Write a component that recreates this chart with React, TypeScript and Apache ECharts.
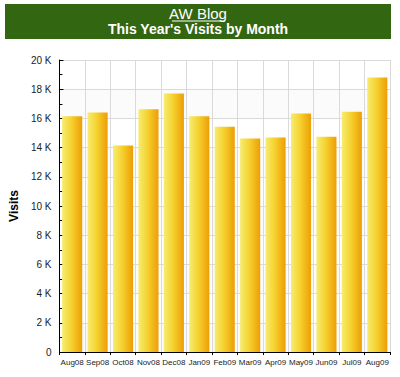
import React, { useEffect, useRef } from "react";
import * as echarts from "echarts";

const categories = ["Aug08", "Sep08", "Oct08", "Nov08", "Dec08", "Jan09", "Feb09", "Mar09", "Apr09", "May09", "Jun09", "Jul09", "Aug09"];
const visits = [16150, 16400, 14150, 16630, 17700, 16150, 15420, 14630, 14690, 16340, 14740, 16450, 18800];
const yTicks = [0, 2000, 4000, 6000, 8000, 10000, 12000, 14000, 16000, 18000, 20000];
const titleLine1 = "AW Blog";
const titleLine2 = "This Year's Visits by Month";
const yAxisName = "Visits";

export default function App() {
  const ref = useRef<HTMLDivElement>(null);
  useEffect(() => {
    if (!ref.current) return;
    const chart = echarts.init(ref.current, null, { renderer: "svg" });
    const font = "'Liberation Sans', Arial, sans-serif";
    chart.setOption({
      animation: false,
      backgroundColor: "#ffffff",
      textStyle: { fontFamily: font },
      graphic: [
        {
          type: "rect",
          shape: { x: 5, y: 4, width: 386, height: 35 },
          style: { fill: "#336611" },
        },
        {
          type: "text",
          x: 198,
          y: 6,
          style: { text: titleLine1, fill: "#ffffff", font: `15px ${font}`, textAlign: "center", textVerticalAlign: "top" },
        },
        {
          type: "line",
          shape: { x1: 172, y1: 21, x2: 225, y2: 21 },
          style: { stroke: "#ffffff", lineWidth: 1 },
        },
        {
          type: "text",
          x: 198,
          y: 22,
          style: { text: titleLine2, fill: "#ffffff", font: `bold 14px ${font}`, textAlign: "center", textVerticalAlign: "top" },
        },
      ],
      grid: { left: 50, right: 10, top: 60, bottom: 25 },
      xAxis: {
        type: "category",
        data: categories,
        axisLine: { lineStyle: { color: "#000", width: 1 } },
        axisTick: { show: true, length: 3, lineStyle: { color: "#000" } },
        axisLabel: { fontSize: 8, color: "#222", margin: 6, interval: 0, fontFamily: font },
        splitLine: { show: true, lineStyle: { color: "#dadada" } },
      },
      yAxis: {
        type: "value",
        min: 0,
        max: 20000,
        interval: 2000,
        name: yAxisName,
        nameLocation: "middle",
        nameGap: 38,
        nameRotate: 90,
        nameTextStyle: { fontWeight: "bold", fontSize: 12, color: "#000", fontFamily: font },
        axisLine: { show: true, lineStyle: { color: "#000", width: 1 } },
        axisTick: { show: true, inside: true, length: 4, lineStyle: { color: "#000" } },
        minorTick: { show: true, splitNumber: 2, length: 3, lineStyle: { color: "#000" } },
        axisLabel: {
          fontSize: 10,
          color: "#222",
          margin: 8,
          fontFamily: font,
          formatter: (v: number) => (yTicks.includes(v) && v !== 0 ? `${v / 1000} K` : "0"),
        },
        splitLine: { show: true, lineStyle: { color: "#dadada" } },
        splitArea: { show: true, areaStyle: { color: ["#fbfbfb", "#ffffff"] } },
      },
      series: [
        {
          type: "bar",
          data: visits,
          barCategoryGap: "21%",
          itemStyle: {
            color: new echarts.graphic.LinearGradient(0, 0, 1, 0, [
              { offset: 0, color: "#f7ec70" },
              { offset: 0.45, color: "#f5d230" },
              { offset: 1, color: "#ed9e05" },
            ]),
          },
        },
      ],
    });
    return () => chart.dispose();
  }, []);
  return <div ref={ref} style={{ position: "fixed", left: 0, top: 0, width: 400, height: 377 }} />;
}
